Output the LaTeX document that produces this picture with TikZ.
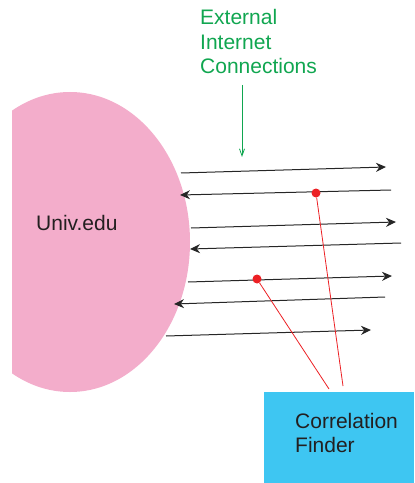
\documentclass[tikz,border=0pt]{standalone}
\usepackage{fontspec}
\setmainfont{Liberation Sans}
\usetikzlibrary{arrows.meta}
\definecolor{univpink}{RGB}{243,173,203}
\definecolor{netgreen}{RGB}{16,166,80}
\definecolor{finderblue}{RGB}{62,198,242}
\definecolor{inktext}{RGB}{35,31,32}
\definecolor{tapred}{RGB}{236,32,36}
\tikzset{
  flow/.style={draw=black!85, line width=1bp, -{Stealth[length=10bp,width=9bp]}},
  tapdot/.style={circle, fill=tapred, inner sep=0pt, minimum size=9bp},
  tapline/.style={draw=tapred, line width=0.8bp},
  label/.style={font=\fontsize{21bp}{24.5bp}\selectfont, text=inktext, inner sep=0pt, align=left},
}
\begin{document}
\begin{tikzpicture}[x=1bp, y=-1bp]
\useasboundingbox (0,0) rectangle (414,483);

% the university network, cut off on its left side
\begin{scope}
  \clip (12,0) rectangle (414,483);
  \fill[univpink] (70,242) ellipse [x radius=120, y radius=150];
\end{scope}
\node[label, anchor=base west] (univ) at (36,230) {Univ.edu};

% external connections label and its pointer
\node[label, text=netgreen, anchor=north west] (ext) at (200,9.5) {External\\Internet\\Connections};
\coordinate (extA) at (242,85);
\coordinate (extB) at (242,157);
\draw[netgreen, line width=0.8bp, -{Straight Barb[length=7bp,width=5bp]}] (extA) -- (extB);

% traffic flows in and out
\coordinate (a1) at (181,173); \coordinate (b1) at (386,167);
\coordinate (a2) at (391,190); \coordinate (b2) at (180,195);
\coordinate (a3) at (191,228); \coordinate (b3) at (396,222);
\coordinate (a4) at (401,243); \coordinate (b4) at (190,249);
\coordinate (a5) at (188,282); \coordinate (b5) at (392,276);
\coordinate (a6) at (385,297); \coordinate (b6) at (174,304);
\coordinate (a7) at (166,336); \coordinate (b7) at (371,330);
\foreach \i in {1,...,7} \draw[flow] (a\i) -- (b\i);

% correlation finder box
\fill[finderblue] (264,392) rectangle (414,483);
\node[label, anchor=north west] (finder) at (295,413) {Correlation\\Finder};

% taps on two flows, wired to the finder
\node[tapdot] (tap1) at (316,193) {};
\node[tapdot] (tap2) at (257,279) {};
\coordinate (in1) at (343,386);
\coordinate (in2) at (329,389);
\draw[tapline] (tap1) -- (in1);
\draw[tapline] (tap2) -- (in2);
\end{tikzpicture}
\end{document}
